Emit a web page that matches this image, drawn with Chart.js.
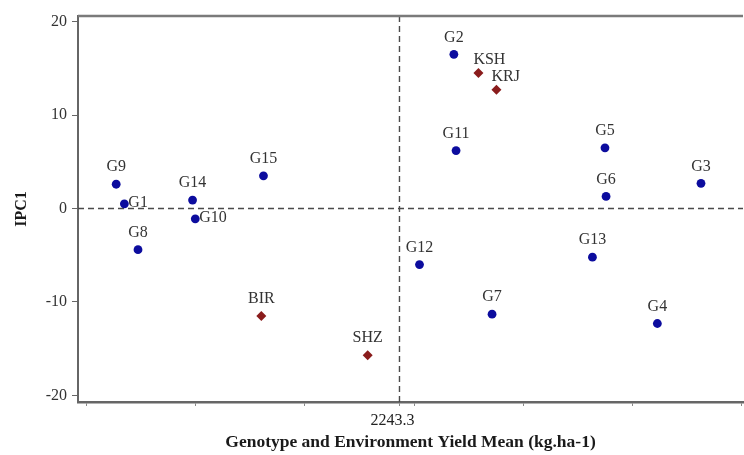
<!DOCTYPE html>
<html>
<head>
<meta charset="utf-8">
<script src="https://cdn.jsdelivr.net/npm/chart.js@4/dist/chart.umd.min.js"></script>
<style>
  html, body { margin: 0; padding: 0; background: #ffffff; }
  #chart { display: block; }
</style>
</head>
<body>
<canvas id="chart" width="744" height="455"></canvas>
<script>
// values (x = yield mean, y = IPC1)
var genoNames = ['G1', 'G2', 'G3', 'G4', 'G5', 'G6', 'G7', 'G8', 'G9', 'G10', 'G11', 'G12', 'G13', 'G14', 'G15'];
var genoYield = [1739, 2343, 2796, 2716, 2620, 2622, 2413, 1764, 1724, 1869, 2347, 2280, 2597, 1864, 1994];
var genoIPC1 = [0.5, 16.5, 2.7, -12.3, 6.5, 1.3, -11.3, -4.4, 2.6, -1.1, 6.2, -6.0, -5.2, 0.9, 3.5];

var envNames = ['BIR', 'SHZ', 'KSH', 'KRJ'];
var envYield = [1990, 2185, 2388, 2421];
var envIPC1 = [-11.5, -15.7, 14.5, 12.7];

var grandMean = 2243.3;
var xTicks = [1670, 1870, 2070, 2243.3, 2270, 2470, 2670, 2870];
var yTicks = [-20, -10, 0, 10, 20];

// where each name sits relative to its marker (default is above)
var labelSide = { G1: 'right', G10: 'right', KSH: 'upright', KRJ: 'upright' };

var serif = '"Liberation Serif", "Times New Roman", serif';

function toPoints(xs, ys) {
    var pts = [];
    for (var i = 0; i < xs.length; i++) {
        pts.push({ x: xs[i], y: ys[i] });
    }
    return pts;
}

// dashed reference lines at the grand mean and at IPC1 = 0, plus the top frame line
var refLines = {
    id: 'refLines',
    beforeDatasetsDraw: function (chart) {
        var ctx = chart.ctx;
        var area = chart.chartArea;
        var x0 = chart.scales.x.getPixelForValue(grandMean);
        var y0 = chart.scales.y.getPixelForValue(0);
        ctx.save();
        ctx.strokeStyle = '#4a4a4a';
        ctx.lineWidth = 1.4;
        ctx.setLineDash([6, 4]);
        ctx.beginPath();
        ctx.moveTo(area.left, y0);
        ctx.lineTo(area.right, y0);
        ctx.moveTo(x0, area.top);
        ctx.lineTo(x0, area.bottom);
        ctx.stroke();
        ctx.setLineDash([]);
        ctx.strokeStyle = '#7a7a7a';
        ctx.lineWidth = 2.5;
        ctx.beginPath();
        ctx.moveTo(area.left, area.top);
        ctx.lineTo(area.right, area.top);
        ctx.stroke();
        ctx.restore();
    }
};

var pointNames = {
    id: 'pointNames',
    afterDatasetsDraw: function (chart) {
        var ctx = chart.ctx;
        ctx.save();
        ctx.font = '16px ' + serif;
        ctx.fillStyle = '#333333';
        ctx.textBaseline = 'middle';
        chart.data.datasets.forEach(function (ds, di) {
            var meta = chart.getDatasetMeta(di);
            meta.data.forEach(function (el, i) {
                var name = ds.names[i];
                var side = labelSide[name] || 'above';
                if (side === 'right') {
                    ctx.textAlign = 'left';
                    ctx.fillText(name, el.x + 4, el.y - 1);
                } else if (side === 'upright') {
                    ctx.textAlign = 'left';
                    ctx.fillText(name, el.x - 5, el.y - 13);
                } else {
                    ctx.textAlign = 'center';
                    ctx.fillText(name, el.x, el.y - 17);
                }
            });
        });
        ctx.restore();
    }
};

var ctx = document.getElementById('chart').getContext('2d');
var chart = new Chart(ctx, {
    type: 'scatter',
    data: {
        datasets: [{
            label: 'Genotypes',
            names: genoNames,
            data: toPoints(genoYield, genoIPC1),
            pointStyle: 'circle',
            pointRadius: 4.4,
            backgroundColor: '#0c0c9e',
            borderColor: '#0c0c9e',
            borderWidth: 0
        }, {
            label: 'Environments',
            names: envNames,
            data: toPoints(envYield, envIPC1),
            pointStyle: 'rectRot',
            pointRadius: 5,
            backgroundColor: '#8a1c1c',
            borderColor: '#8a1c1c',
            borderWidth: 0
        }]
    },
    options: {
        responsive: false,
        animation: false,
        devicePixelRatio: 1,
        layout: { autoPadding: false, padding: { top: 16, right: 1, left: 0, bottom: 0 } },
        plugins: {
            legend: { display: false },
            tooltip: { enabled: false }
        },
        scales: {
            x: {
                type: 'linear',
                min: 1654,
                max: 2873,
                afterBuildTicks: function (scale) {
                    scale.ticks = xTicks.map(function (v) { return { value: v }; });
                },
                afterFit: function (scale) {
                    scale.height = 53;
                    scale.paddingRight = 0;
                },
                border: { display: true, color: '#666666', width: 2.5 },
                grid: { display: true, drawOnChartArea: false, drawTicks: true, tickLength: 4, color: '#888888' },
                ticks: {
                    autoSkip: false,
                    maxRotation: 0,
                    padding: 5,
                    labelOffset: -7,
                    color: '#222222',
                    font: { family: serif, size: 16 },
                    callback: function (v) { return v === grandMean ? '2243.3' : ''; }
                },
                title: {
                    display: true,
                    text: 'Genotype and Environment Yield Mean (kg.ha-1)',
                    color: '#1a1a1a',
                    font: { family: serif, size: 17.5, weight: 'bold' },
                    padding: { top: 0, bottom: 2 }
                }
            },
            y: {
                type: 'linear',
                min: -20.7,
                max: 20.6,
                afterBuildTicks: function (scale) {
                    scale.ticks = yTicks.map(function (v) { return { value: v }; });
                },
                afterFit: function (scale) { scale.width = 78; },
                border: { display: true, color: '#666666', width: 2 },
                grid: { display: true, drawOnChartArea: false, drawTicks: true, tickLength: 6, color: '#666666' },
                ticks: {
                    padding: 5,
                    color: '#333333',
                    font: { family: serif, size: 16 }
                },
                title: {
                    display: true,
                    text: 'IPC1',
                    color: '#1a1a1a',
                    font: { family: serif, size: 16, weight: 'bold' },
                    padding: { top: 12, bottom: 0 }
                }
            }
        }
    },
    plugins: [refLines, pointNames]
});
</script>
</body>
</html>
